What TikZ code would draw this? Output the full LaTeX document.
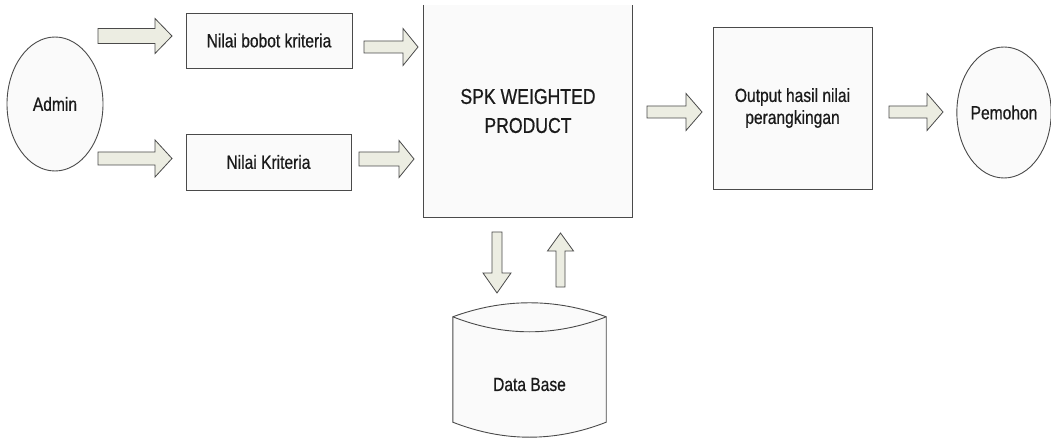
\documentclass[tikz,border=0pt]{standalone}
\usepackage{fontspec}
\setmainfont{Liberation Sans}[FakeStretch=0.82,FakeBold=0.6]
\usetikzlibrary{calc,shapes.geometric}
\pgfdeclarelayer{background}
\pgfsetlayers{background,main}

\definecolor{edge}{HTML}{4A4A4A}
\definecolor{arrowfill}{HTML}{ECEDE2}
\definecolor{boxfill}{HTML}{FAFAFA}
\definecolor{ink}{HTML}{1A1A1A}

\tikzset{
  base/.style={inner sep=0pt, text=ink, font=\fontsize{19}{22}\selectfont, align=center},
  box/.style={base, draw=edge, line width=0.9pt, fill=boxfill, rectangle},
  actor/.style={base, draw=edge, line width=0.9pt, fill=boxfill, ellipse},
  outline/.style={draw=edge, line width=0.9pt},
  blockarrow/.style={draw=edge, line width=0.8pt, fill=arrowfill, line join=miter},
}

% hollow block arrow from #1 to #2; #3 shaft half-width, #4 head half-width, #5 head length
\newcommand\blockarrow[5]{%
  \path let \p1=(#1), \p2=(#2) in
    \pgfextra{%
      \pgfmathsetmacro\balen{veclen(\x2-\x1,\y2-\y1)}%
      \pgfmathsetmacro\baang{atan2(\y2-\y1,\x2-\x1)}%
      \pgfmathsetmacro\babase{\balen-#5}%
      \global\let\balen\balen\global\let\baang\baang\global\let\babase\babase};
  \begin{scope}[shift={(#1)}, rotate=\baang]
    \draw[blockarrow] (0pt,#3pt) -- (\babase pt,#3pt) -- (\babase pt,#4pt)
      -- (\balen pt,0pt) -- (\babase pt,-#4pt) -- (\babase pt,-#3pt)
      -- (0pt,-#3pt) -- cycle;
  \end{scope}}

\begin{document}
\begin{tikzpicture}[x=1pt, y=-1pt]
  \useasboundingbox (0,0) rectangle (1051,438);

  % actors and process boxes
  \node[actor, minimum width=96, minimum height=134] (admin) at (55,104) {Admin};
  \node[box, minimum width=166, minimum height=55] (bobot) at (269,40.5) {Nilai bobot kriteria};
  \node[box, minimum width=165, minimum height=56] (krit) at (268.5,162) {Nilai Kriteria};
  \node[base, fill=boxfill, minimum width=208, minimum height=212,
        font=\fontsize{21.5}{29}\selectfont] (spk) at (528,111) {SPK WEIGHTED\\PRODUCT};
  \draw[outline] (spk.north west) |- (spk.south east) -- (spk.north east);
  \node[box, minimum width=159, minimum height=162] (out) at (792.5,108) {Output hasil nilai\\perangkingan};
  \node[actor, minimum width=94, minimum height=131] (pemohon) at (1004,112.5) {Pemohon};

  % database drum
  \node[base, minimum width=153, minimum height=105] (db) at (529.5,384.5) {Data Base};
  \coordinate (dbtl) at ($(db.north west)+(0,-15)$);
  \coordinate (dbtr) at ($(db.north east)+(0,-15)$);
  \coordinate (dbbl) at ($(db.south west)+(0,-15)$);
  \coordinate (dbbr) at ($(db.south east)+(0,-15)$);
  \begin{pgfonlayer}{background}
    \draw[outline, fill=boxfill] (dbtl) .. controls +(51,-18.7) and +(-51,-18.7) .. (dbtr)
      -- (dbbr) .. controls +(-51,20) and +(51,20) .. (dbbl) -- cycle;
  \end{pgfonlayer}
  \draw[outline] (dbtl) .. controls +(51,20) and +(-51,20) .. (dbtr);

  % arrow end points
  \coordinate (a1s) at (98,36);    \coordinate (a1e) at (172,36);
  \coordinate (a2s) at (98,158.5); \coordinate (a2e) at (172,158.5);
  \coordinate (a3s) at (364,47);   \coordinate (a3e) at (418,47);
  \coordinate (a4s) at (359,159);  \coordinate (a4e) at (414,159);
  \coordinate (a5s) at (647,112);  \coordinate (a5e) at (702,112);
  \coordinate (a6s) at (889,112);  \coordinate (a6e) at (943,112);
  \coordinate (a7s) at (497,232);  \coordinate (a7e) at (497,293);
  \coordinate (a8s) at (560.5,287);\coordinate (a8e) at (560.5,233);

  \blockarrow{a1s}{a1e}{7.5}{17.5}{17}
  \blockarrow{a2s}{a2e}{6.5}{18.5}{17}
  \blockarrow{a3s}{a3e}{6}{18.5}{15}
  \blockarrow{a4s}{a4e}{7}{18.5}{15}
  \blockarrow{a5s}{a5e}{6}{18.5}{16}
  \blockarrow{a6s}{a6e}{6}{18.5}{16}
  \blockarrow{a7s}{a7e}{5}{14}{20}
  \blockarrow{a8s}{a8e}{4.5}{13}{18}
\end{tikzpicture}
\end{document}
